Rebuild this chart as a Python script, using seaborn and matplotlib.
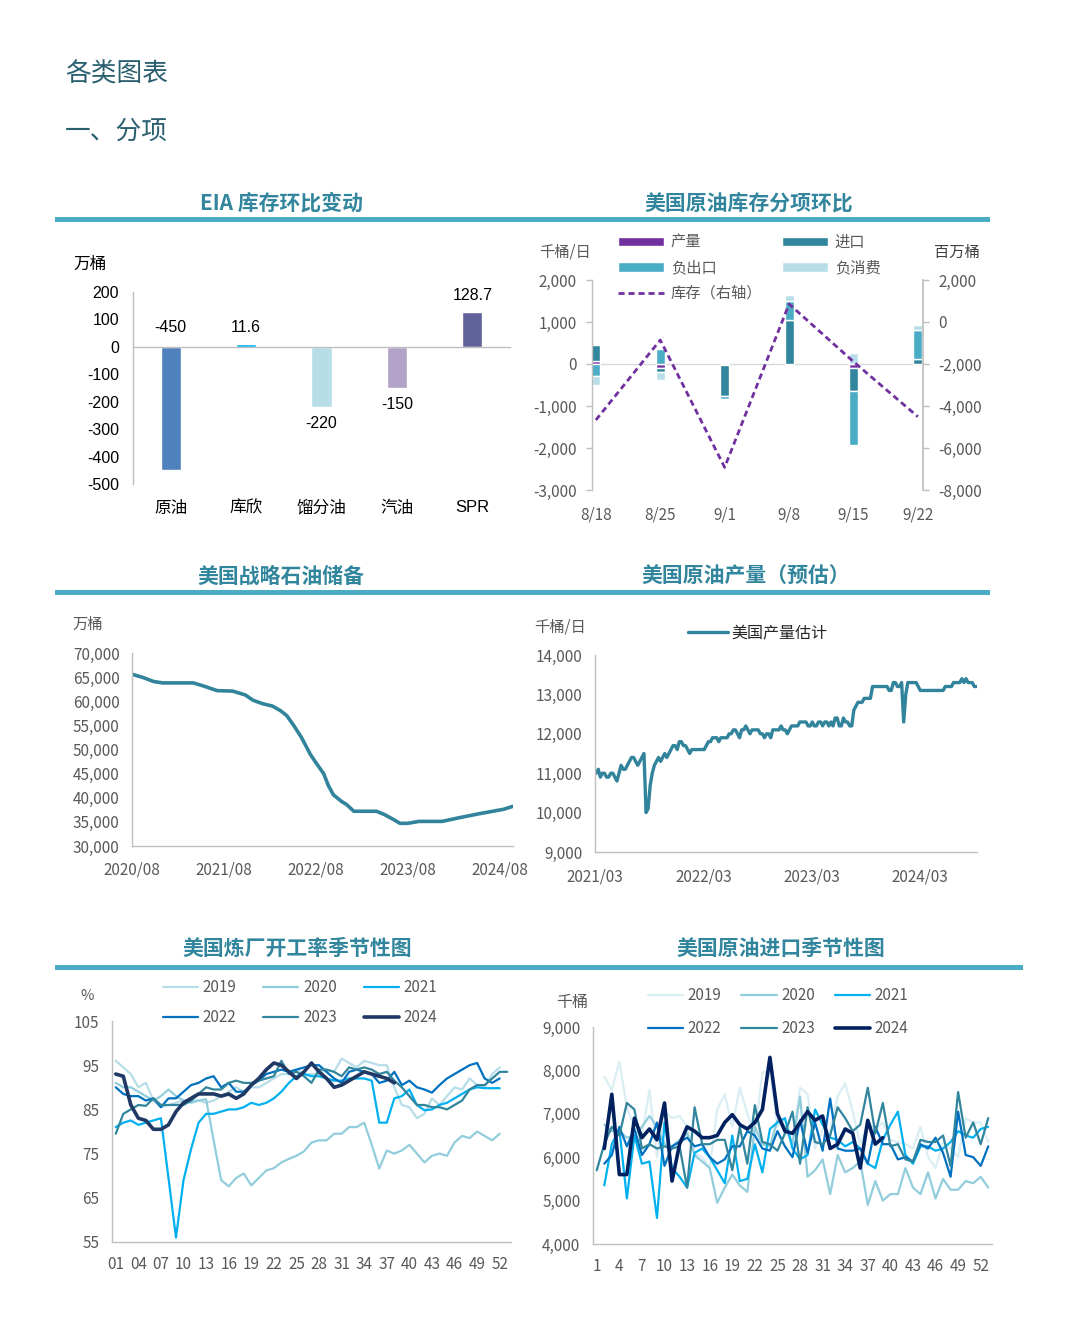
import numpy as np
import pandas as pd
import matplotlib
matplotlib.use('Agg')
import matplotlib.pyplot as plt
import matplotlib.dates as mdates
import matplotlib.transforms as mtransforms
from matplotlib.patches import Rectangle
from matplotlib.ticker import FuncFormatter, MultipleLocator
import seaborn as sns

# ---------------- data ----------------
eia_cats = ['原油', '库欣', '馏分油', '汽油', 'SPR']
eia_vals = [-450, 11.6, -220, -150, 128.7]
eia_labels = ['-450', '11.6', '-220', '-150', '128.7']
eia_colors = ['#4f81bd', '#00b0f0', '#b7dee8', '#b3a2c7', '#60619a']

comp_weeks = ['8/18', '8/25', '9/1', '9/8', '9/15', '9/22']
comp_prod = [80, -90, -20, 0, -100, 0]
comp_imports = [370, -100, -750, 1050, -550, 130]
comp_neg_exports = [-290, 360, -60, 460, -1290, 690]
comp_neg_cons = [-220, -180, -30, 140, 260, 120]
comp_stock = [-4667, -857, -6921, 857, -1889, -4508]

spr_dates = ['2020-08-01', '2020-09-15', '2020-10-25', '2020-12-01', '2021-04-01', '2021-05-10',
             '2021-07-05', '2021-09-05', '2021-10-25', '2021-11-25', '2022-01-01', '2022-02-10',
             '2022-03-15', '2022-04-08', '2022-05-05', '2022-06-05', '2022-07-10', '2022-08-05',
             '2022-09-01', '2022-09-20', '2022-10-10', '2022-11-12', '2022-12-01', '2022-12-30',
             '2023-03-30', '2023-05-01', '2023-06-05', '2023-07-01', '2023-08-01', '2023-09-15',
             '2023-12-15', '2024-02-25', '2024-05-12', '2024-08-15', '2024-09-20']
spr_vals = [65600, 64900, 64100, 63800, 63800, 63200,
            62200, 62100, 61300, 60200, 59500, 59000,
            58000, 57000, 55000, 52500, 49000, 47000,
            45000, 42500, 40600, 39200, 38600, 37200,
            37200, 36500, 35500, 34700, 34700, 35100,
            35100, 35900, 36700, 37600, 38200]

prod_start = '2021-03-05'
prod_vals = [11000, 11100, 10900, 11000, 11000, 10900, 10900, 11000, 11000, 10900,
             10800, 11000, 11200, 11100, 11100, 11200, 11300, 11400, 11400, 11300,
             11200, 11300, 11400, 11500, 10000, 10100, 10700, 11000, 11200, 11300,
             11400, 11300, 11400, 11500, 11400, 11500, 11600, 11700, 11700, 11600,
             11800, 11800, 11700, 11700, 11600, 11500, 11600, 11600, 11600, 11600,
             11600, 11600, 11600, 11700, 11800, 11800, 11900, 11900, 11900, 11800,
             11900, 11900, 11900, 11900, 12000, 12000, 12100, 12100, 12000, 11900,
             12100, 12100, 12200, 12100, 12000, 12100, 12100, 12100, 12100, 12000,
             12000, 11900, 12000, 12000, 11900, 12100, 12100, 12100, 12100, 12200,
             12100, 12100, 12000, 12100, 12200, 12200, 12200, 12200, 12300, 12300,
             12300, 12300, 12200, 12200, 12300, 12200, 12200, 12300, 12300, 12200,
             12300, 12300, 12200, 12300, 12200, 12400, 12400, 12200, 12200, 12400,
             12300, 12300, 12200, 12200, 12600, 12700, 12800, 12800, 12800, 12900,
             12900, 12900, 12900, 13200, 13200, 13200, 13200, 13200, 13200, 13200,
             13200, 13100, 13100, 13300, 13300, 13200, 13200, 13300, 12300, 13000,
             13300, 13300, 13300, 13300, 13300, 13200, 13100, 13100, 13100, 13100,
             13100, 13100, 13100, 13100, 13100, 13100, 13100, 13100, 13200, 13200,
             13200, 13200, 13300, 13300, 13300, 13300, 13400, 13300, 13400, 13300,
             13300, 13300, 13200, 13200]

season_years = ['2019', '2020', '2021', '2022', '2023', '2024']
ref_2019 = [96, 94.5, 93, 90, 91, 87, 85.5, 86, 86.5, 87,
            87, 87, 86.5, 87, 88, 89, 90, 89, 90, 90,
            91, 92, 93, 93, 94, 93, 93, 93, 94, 93.5,
            96.5, 95.5, 94.5, 96, 95.5, 95, 95, 90, 86, 85.5,
            83, 84, 87.5, 86, 88, 90, 89.5, 92, 90.5, 90,
            93, 94.5]
ref_2020 = [91, 90, 90, 89, 88, 87, 88, 89.5, 88, 87,
            86.5, 87, 87.3, 78, 69, 67.6, 69.5, 70.5, 67.8, 69.5,
            71.2, 71.7, 73, 73.8, 74.5, 75.5, 77.5, 78, 78, 79.5,
            79.5, 81, 81, 82, 77, 71.6, 75.7, 75, 75.7, 77,
            75, 73, 74.5, 75, 74.5, 77.5, 79, 78.5, 80, 79,
            78, 79.5]
ref_2021 = [81, 82, 82.5, 81.5, 82, 82.5, 83, 69.5, 56, 69,
            76, 82, 84, 84, 84.5, 85, 85, 85.5, 86.5, 86,
            86.5, 87.5, 89, 91, 92.5, 93, 92.5, 92.5, 92, 91.5,
            91.5, 92, 92, 92, 91.5, 82, 82, 87.5, 88, 89.5,
            86, 84.8, 85, 86, 86.5, 87.5, 88.5, 89.5, 90, 89.8,
            89.8, 89.8]
ref_2022 = [90, 88.5, 88, 88, 87, 87.5, 85.5, 87.5, 87.5, 89,
            90.5, 91, 92, 92.5, 90, 91, 89, 89, 90.5, 91.5,
            93, 93.5, 94, 93.5, 94, 94.5, 95, 95, 93.5, 92,
            91, 93.5, 94, 93.5, 93, 91, 91.5, 93.5, 90.5, 91.5,
            90, 89.5, 88.8, 90.5, 92, 93, 94, 95, 95.5, 92,
            91, 92]
ref_2023 = [79.5, 84, 85, 86, 85.8, 87.5, 86, 86, 86, 86,
            87, 88.5, 90, 89.5, 89.5, 91, 91.5, 91, 91, 91.5,
            92, 92.5, 96, 93, 93.5, 92.5, 91, 94, 94, 93.5,
            92.5, 94.5, 94, 94.5, 94, 93, 93.5, 91.5, 90, 88,
            86, 86, 85.5, 85.5, 85, 86, 87, 89.5, 90.5, 90.5,
            92, 93.5, 93.5]
ref_2024 = [93, 92.5, 86, 83, 82.5, 80.5, 80.5, 81.5, 84.5, 86.5,
            87.5, 88.5, 88.5, 88.5, 88, 88.5, 87.5, 88.5, 90.5, 92,
            94, 95.5, 95, 93.5, 92, 93.5, 95.5, 93.5, 92, 90,
            90.5, 91.5, 92.5, 93.5, 93, 92.5, 92, 91]

nan = np.nan
imp_2019 = [nan, 7850, 7550, 8200, 7150, 6700, 6500, 7550, 6000, 7050,
            6900, 6950, 6700, 6100, 6000, 5750, 7100, 7450, 6700, 7600,
            7000, 6500, 7950, 8000, 6700, 6850, 6350, 7600, 7450, 6200,
            6650, 6600, 7400, 7700, 7050, 6300, 6800, 6650, 6800, 6400,
            6350, 6300, 6200, 6700, 6000, 5750, 6350, 6200, 6000, 6900,
            6800, 6800, 6350]
imp_2020 = [nan, 6750, 6600, 6600, 6450, 6500, 6700, 6950, 6700, 6300,
            6250, 6400, 6550, 6050, 5900, 5750, 4950, 5300, 5600, 5350,
            5200, 6700, 6300, 6250, 6850, 6700, 6300, 7400, 5550, 5700,
            5950, 5150, 6050, 5650, 5750, 5900, 4900, 5450, 5000, 5150,
            5150, 5750, 5300, 5150, 5650, 5050, 5500, 5250, 5250, 5450,
            5400, 5550, 5300]
imp_2021 = [nan, 5350, 6300, 6650, 5050, 6500, 5850, 5900, 4600, 6800,
            5750, 5550, 5300, 6100, 6200, 6000, 5700, 5400, 6500, 5450,
            5500, 6300, 5650, 6650, 6800, 6900, 6200, 5950, 6050, 7100,
            6750, 6450, 6400, 6250, 6350, 6200, 5850, 5750, 6400, 6750,
            7050, 6050, 5850, 6250, 6250, 6150, 6200, 6350, 6600, 6500,
            6450, 6650, 6700]
imp_2022 = [nan, 5850, 6050, 6700, 6250, 6650, 6050, 6300, 6800, 5800,
            6250, 6350, 6450, 6250, 6300, 6000, 5850, 5950, 6250, 6250,
            6600, 6500, 6200, 6150, 6600, 6250, 6000, 6850, 6100, 6800,
            6150, 7350, 6200, 6150, 6150, 6200, 5850, 6700, 6300, 6300,
            5950, 6000, 5900, 6300, 6200, 6450, 6100, 5550, 7050, 6050,
            6000, 5800, 6250]
imp_2023 = [5700, 6300, 6700, 6500, 7250, 7100, 6200, 6300, 6200, 6250,
            6200, 6250, 5300, 7150, 6300, 6300, 6400, 6400, 5700, 6700,
            5850, 7200, 6350, 6300, 6150, 6550, 7050, 5850, 7150, 6350,
            6300, 6500, 7150, 6900, 6600, 6750, 7600, 6550, 7250, 6250,
            6300, 5950, 5900, 6400, 6350, 6350, 6500, 5800, 7500, 6450,
            6800, 6300, 6900]
imp_2024 = [nan, 6200, 7450, 5600, 5600, 6900, 6450, 6650, 6400, 7250,
            5450, 6300, 6700, 6600, 6450, 6450, 6500, 6800, 6980, 6750,
            6650, 6800, 7100, 8300, 7000, 6600, 6550, 6800, 7050, 6850,
            6950, 6200, 6300, 6650, 6550, 5750, 6850, 6300, 6450]

ref_colors = ['#b7dee8', '#92cddc', '#00b0f0', '#0070c0', '#31859c', '#1f3864']
imp_colors = ['#daeef3', '#92cddc', '#00b0f0', '#0070c0', '#31859c', '#002060']

# ---------------- style ----------------
sns.set_theme(style='white')
plt.rcParams['font.family'] = ['Noto Sans CJK SC', 'DejaVu Sans']
plt.rcParams['axes.unicode_minus'] = False

W, H = 1080, 1317
fig = plt.figure(figsize=(W / 100, H / 100), dpi=100)
fig.patch.set_facecolor('white')


def rect(l, r, t, b):
    return [l / W, 1 - b / H, (r - l) / W, (b - t) / H]


def fx(x):
    return x / W


def fy(y):
    return 1 - y / H


GRID = '#bfbfbf'
TXT = '#595959'
comma = FuncFormatter(lambda v, p: f'{v:,.0f}')
HDR = '#2a5f70'
TITLE = '#31859c'
BANNER = '#4bacc6'
TICK_FS = 11

fig.text(fx(65), fy(75), '各类图表', fontsize=18.5, color=HDR, va='center', ha='left',
         fontweight='medium')
fig.text(fx(65), fy(132), '一、分项', fontsize=18.5, color=HDR, va='center', ha='left',
         fontweight='medium')

titles = [(281, 203, 'EIA 库存环比变动'), (749, 203, '美国原油库存分项环比'),
          (281, 576, '美国战略石油储备'), (746, 576, '美国原油产量（预估）'),
          (297, 948, '美国炼厂开工率季节性图'), (781, 948, '美国原油进口季节性图')]
for cx, cy, t in titles:
    fig.text(fx(cx), fy(cy), t, fontsize=15, color=TITLE, ha='center', va='center',
             fontweight='bold')
for x0, x1, y in [(55, 990, 219), (55, 990, 593), (55, 1023, 967)]:
    fig.add_artist(Rectangle((fx(x0), fy(y + 2.5)), (x1 - x0) / W, 5 / H,
                             transform=fig.transFigure, color=BANNER, lw=0))


def base_style(ax, labelcolor=TXT, size=TICK_FS):
    for s in ['top', 'right']:
        ax.spines[s].set_visible(False)
    for s in ['left', 'bottom']:
        ax.spines[s].set_color(GRID)
        ax.spines[s].set_linewidth(1)
    ax.tick_params(axis='both', colors=GRID, labelcolor=labelcolor, labelsize=size,
                   direction='out', width=1)
    ax.set_xlabel('')
    ax.set_ylabel('')
    ax.grid(False)


# ---------------- panel 1 ----------------
ax1 = fig.add_axes(rect(133, 510, 292, 484))
sns.barplot(x=eia_cats, y=eia_vals, hue=eia_cats, palette=eia_colors, order=eia_cats,
            hue_order=eia_cats, legend=False, width=0.27, saturation=1, ax=ax1)
base_style(ax1, labelcolor='black', size=11.5)
ax1.set_xlim(-0.5, 4.5)
ax1.set_ylim(-500, 200)
ax1.set_yticks(range(-500, 201, 100))
ax1.spines['bottom'].set_position(('data', 0))
ax1.set_xticks(np.arange(0.5, 5, 1))
ax1.set_xticklabels([])
ax1.tick_params(axis='x', length=5)
ax1.tick_params(axis='y', length=4, pad=6)
plt.setp(ax1.get_yticklabels(), family=['Liberation Sans', 'Noto Sans CJK SC'])
bt = mtransforms.blended_transform_factory(ax1.transData, ax1.transAxes)
for i, c in enumerate(eia_cats):
    ax1.text(i, -0.125, c, transform=bt, ha='center', va='center', fontsize=12,
             color='black', family=['Liberation Sans', 'Noto Sans CJK SC'])
for i, (v, lab) in enumerate(zip(eia_vals, eia_labels)):
    off = 60
    ypos = v + off if v >= 0 else (v - off if v - off > -500 else off + 10)
    ax1.text(i, ypos, lab, ha='center', va='center', fontsize=11.5, color='black',
             family=['Liberation Sans', 'Noto Sans CJK SC'])
fig.text(fx(90), fy(264), '万桶', fontsize=12, color='black', ha='center', va='center')

# ---------------- panel 2 ----------------
ax2 = fig.add_axes(rect(592, 923, 280, 490))
xpos = np.arange(len(comp_weeks))
pos_base = np.zeros(len(xpos))
neg_base = np.zeros(len(xpos))
bars = {}
for vals, name, col in [(comp_prod, '产量', '#7030a0'), (comp_imports, '进口', '#31859c'),
                        (comp_neg_exports, '负出口', '#4bacc6'), (comp_neg_cons, '负消费', '#b7dee8')]:
    v = np.array(vals, dtype=float)
    bottom = np.where(v >= 0, pos_base, neg_base)
    bars[name] = ax2.bar(xpos, v, bottom=bottom, width=0.14, color=col, label=name, zorder=2)
    pos_base += np.where(v >= 0, v, 0)
    neg_base += np.where(v < 0, v, 0)
base_style(ax2)
ax2.spines['bottom'].set_visible(False)
ax2.axhline(0, color='#d9d9d9', lw=1, zorder=1)
ax2.set_xlim(-0.06, 5.08)
ax2.set_ylim(-3000, 2000)
ax2.yaxis.set_major_locator(MultipleLocator(1000))
ax2.yaxis.set_major_formatter(comma)
ax2.set_xticks(xpos)
ax2.set_xticklabels(comp_weeks)
ax2.tick_params(axis='x', length=0, pad=12)
ax2.tick_params(axis='y', length=4, pad=7)

ax2r = ax2.twinx()
sns.lineplot(x=xpos, y=comp_stock, ax=ax2r, color='#7030a0', linewidth=2,
             linestyle=(0, (2.2, 1.4)))
for s in ['top', 'left', 'bottom']:
    ax2r.spines[s].set_visible(False)
ax2r.spines['right'].set_color(GRID)
ax2r.set_ylim(-8000, 2000)
ax2r.yaxis.set_major_locator(MultipleLocator(2000))
ax2r.yaxis.set_major_formatter(comma)
ax2r.tick_params(axis='y', colors=GRID, labelcolor=TXT, labelsize=TICK_FS, length=4, pad=7,
                 direction='out', width=1)
ax2r.set_ylabel('')
ax2r.grid(False)
stock_line = ax2r.lines[0]
stock_line.set_label('库存（右轴）')
h2 = [bars['产量'], bars['负出口'], stock_line, bars['进口'], bars['负消费']]
l2 = ['产量', '负出口', '库存（右轴）', '进口', '负消费']
ax2r.legend(h2, l2, ncol=2, loc='upper left', bbox_to_anchor=(fx(618), fy(234)),
            bbox_transform=fig.transFigure, frameon=False, fontsize=11,
            handlelength=3.0, handleheight=0.55, handletextpad=0.45, columnspacing=1.3,
            labelspacing=0.55, borderpad=0, borderaxespad=0, labelcolor=TXT)
fig.text(fx(565), fy(252), '千桶/日', fontsize=11, color=TXT, ha='center', va='center')
fig.text(fx(957), fy(252), '百万桶', fontsize=11, color='#404040', ha='center', va='center')

# ---------------- panel 3 ----------------
ax3 = fig.add_axes(rect(132, 513, 653, 846))
sns.lineplot(x=pd.to_datetime(spr_dates), y=spr_vals, ax=ax3, color='#31849b', linewidth=2.6)
base_style(ax3)
ax3.set_xlim(pd.Timestamp('2020-08-01'), pd.Timestamp('2024-09-22'))
ax3.set_ylim(30000, 70000)
ax3.yaxis.set_major_locator(MultipleLocator(5000))
ax3.yaxis.set_major_formatter(comma)
ax3.xaxis.set_major_locator(mdates.MonthLocator(bymonth=8, bymonthday=1))
ax3.xaxis.set_major_formatter(mdates.DateFormatter('%Y/%m'))
ax3.tick_params(axis='x', length=4, pad=7)
ax3.tick_params(axis='y', length=4, pad=5)
fig.text(fx(88), fy(624), '万桶', fontsize=11, color=TXT, ha='center', va='center')

# ---------------- panel 4 ----------------
ax4 = fig.add_axes(rect(595, 977, 655, 852))
prod_dates = pd.date_range(prod_start, periods=len(prod_vals), freq='7D')
sns.lineplot(x=prod_dates, y=prod_vals, ax=ax4, color='#31849b', linewidth=2.4,
             label='美国产量估计')
base_style(ax4)
ax4.set_xlim(pd.Timestamp('2021-03-01'), prod_dates[-1] + pd.Timedelta(days=2))
ax4.set_ylim(9000, 14000)
ax4.yaxis.set_major_locator(MultipleLocator(1000))
ax4.yaxis.set_major_formatter(comma)
ax4.xaxis.set_major_locator(mdates.MonthLocator(bymonth=3, bymonthday=1))
ax4.xaxis.set_major_formatter(mdates.DateFormatter('%Y/%m'))
ax4.tick_params(axis='x', length=4, pad=8)
ax4.tick_params(axis='y', length=4, pad=5)
ax4.legend(loc='upper left', bbox_to_anchor=(fx(688), fy(625)), bbox_transform=fig.transFigure,
           frameon=False, fontsize=11.5, handlelength=2.5, handletextpad=0.2, borderpad=0,
           borderaxespad=0, labelcolor='#262626')
fig.text(fx(560), fy(627), '千桶/日', fontsize=11, color=TXT, ha='center', va='center')

# ---------------- panel 5 & 6 (seasonal) ----------------
weeks = np.arange(1, 54)


def seasonal(ax, series, colors, fmt, leg_xy, lspace, cspace, yticks, yfmt):
    for yr, vals, col in zip(season_years, series, colors):
        lw = 2.6 if yr == '2024' else 1.6
        sns.lineplot(x=weeks[:len(vals)], y=vals, ax=ax, color=col, linewidth=lw, label=yr)
    base_style(ax)
    ax.set_xlim(0.5, 53.5)
    ax.set_ylim(yticks[0], yticks[-1])
    ax.set_yticks(yticks)
    if yfmt is not None:
        ax.yaxis.set_major_formatter(yfmt)
    ax.set_xticks(np.arange(1, 53, 3))
    ax.set_xticklabels([fmt(w) for w in range(1, 53, 3)])
    ax.set_xticks(np.arange(0.5, 54, 1), minor=True)
    ax.tick_params(axis='x', which='major', length=0, pad=10)
    ax.tick_params(axis='x', which='minor', length=4, colors=GRID, width=1)
    ax.tick_params(axis='y', length=4, pad=5)
    hs, ls = ax.get_legend_handles_labels()
    order = [0, 3, 1, 4, 2, 5]
    ax.legend([hs[i] for i in order], [ls[i] for i in order], ncol=3, loc='upper left',
              bbox_to_anchor=(fx(leg_xy[0]), fy(leg_xy[1])), bbox_transform=fig.transFigure,
              frameon=False, fontsize=11, handlelength=2.3, handletextpad=0.3,
              columnspacing=cspace, labelspacing=lspace, borderpad=0, borderaxespad=0,
              labelcolor=TXT)


ax5 = fig.add_axes(rect(112, 511, 1021, 1242))
seasonal(ax5, [ref_2019, ref_2020, ref_2021, ref_2022, ref_2023, ref_2024], ref_colors,
         lambda w: f'{w:02d}', (163, 979), 0.85, 1.75, list(range(55, 106, 10)), None)
fig.text(fx(87), fy(996), '%', fontsize=10.5, color=TXT, ha='center', va='center')

ax6 = fig.add_axes(rect(593, 992, 1027, 1244))
seasonal(ax6, [imp_2019, imp_2020, imp_2021, imp_2022, imp_2023, imp_2024], imp_colors,
         lambda w: f'{w}', (648, 987), 1.05, 1.3, list(range(4000, 9001, 1000)), comma)
fig.text(fx(572), fy(1003), '千桶', fontsize=11.5, color=TXT, ha='center', va='center')

fig.savefig('out.png', dpi=100, facecolor='white')
